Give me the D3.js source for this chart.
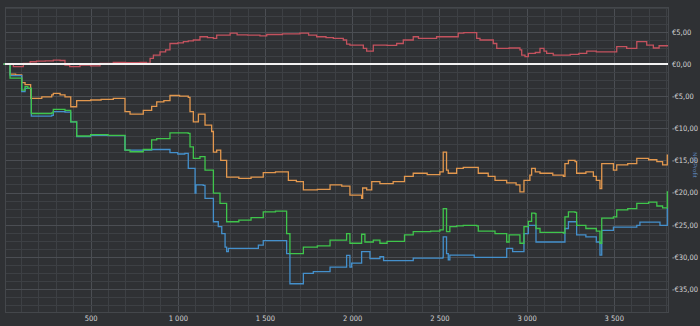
<!DOCTYPE html>
<html>
<head>
<meta charset="utf-8">
<script src="https://cdn.jsdelivr.net/npm/d3@7"></script>
<style>
    html, body { margin: 0; padding: 0; background: #2f3134; overflow: hidden; }
    #chart { display: block; }
</style>
</head>
<body>
<svg id="chart"></svg>
<script>
var xTicks = [500, 1000, 1500, 2000, 2500, 3000, 3500];
var yTicks = [5, 0, -5, -10, -15, -20, -25, -30, -35];

var redSeries = [[0, 0], [40, 0], [57, -0.4], [114, 0.1], [153, 0.36], [190, 0.45], [240, 0.5], [286, 0.62], [325, 0.55],
    [353, -0.15], [380, -0.4], [439, -0.15], [500, -0.3], [554, 0.1], [630, 0.26], [700, 0.2], [783, 0.26], [820, 0.15],
    [841, 0.88], [860, 1.4], [898, 1.9], [930, 2.2], [955, 3.2], [1000, 3.3], [1032, 3.5], [1060, 3.6], [1089, 3.74],
    [1127, 4.25], [1170, 4.1], [1204, 4.0], [1223, 4.5], [1300, 4.8], [1340, 4.55], [1400, 4.5], [1471, 4.4], [1510, 4.6],
    [1600, 4.7], [1700, 4.8], [1750, 4.5], [1796, 4.25], [1850, 4.1], [1892, 4.0], [1949, 3.74], [1968, 3.1], [1987, 2.96],
    [2064, 2.44], [2083, 2.0], [2121, 2.96], [2200, 2.9], [2255, 3.2], [2293, 3.74], [2350, 4.25], [2380, 4.0], [2484, 4.25],
    [2608, 4.8], [2640, 4.9], [2714, 4.0], [2733, 3.74], [2809, 3.2], [2829, 2.44], [2900, 2.5], [2962, 2.2], [2972, 1.4],
    [2991, 1.14], [3010, 1.66], [3050, 1.8], [3077, 2.44], [3100, 2.0], [3115, 1.66], [3153, 1.4], [3250, 1.5], [3300, 1.66],
    [3345, 2.0], [3400, 1.9], [3440, 1.9], [3517, 2.7], [3574, 2.44], [3632, 3.5], [3689, 2.96], [3727, 2.5], [3760, 2.85],
    [3811, 2.85]];

var orangeSeries = [[0, 0], [38, -1.56], [70, -1.7], [105, -2.9], [124, -3.2], [156, -5.35], [220, -5.1], [277, -4.8],
    [286, -4.57], [325, -4.8], [353, -5.1], [386, -6.65], [420, -5.7], [500, -5.6], [560, -5.5], [630, -5.35], [697, -7.4],
    [726, -7.8], [802, -7.2], [850, -6.6], [879, -5.9], [920, -5.7], [955, -4.9], [1010, -5.0], [1060, -5.2], [1070, -7.4],
    [1089, -9.0], [1118, -7.8], [1146, -7.8], [1156, -9.5], [1194, -10.5], [1204, -13.7], [1223, -13.4], [1246, -15],
    [1280, -17.6], [1350, -17.8], [1420, -17.6], [1490, -16.9], [1560, -16.8], [1634, -18.1], [1680, -18.3], [1720, -19.6],
    [1800, -19.5], [1873, -18.8], [1940, -19.0], [1987, -20.4], [2054, -20.9], [2060, -19.3], [2083, -19.6], [2112, -18.3],
    [2159, -18.6], [2235, -18.3], [2300, -17.5], [2350, -17.0], [2430, -17.2], [2503, -16.8], [2522, -13.7], [2541, -16.5],
    [2551, -17.0], [2599, -16.25], [2637, -16.1], [2714, -16.1], [2723, -17.0], [2780, -17.5], [2819, -18.1], [2886, -18.5],
    [2940, -18.8], [2962, -19.9], [2985, -18.1], [3019, -17.3], [3029, -16.25], [3050, -16.8], [3077, -17.0], [3150, -17.3],
    [3211, -17.5], [3220, -15.5], [3240, -15.0], [3278, -15.2], [3287, -17.0], [3340, -16.8], [3383, -17.5], [3400, -18.1],
    [3421, -19.4], [3431, -15.5], [3498, -16.5], [3517, -15.7], [3580, -15.5], [3632, -14.7], [3700, -14.9], [3747, -15.2],
    [3780, -15.7], [3807, -14.2], [3811, -14.2]];

var greenSeries = [[0, 0], [38, -2.2], [105, -4.05], [124, -3.5], [140, -3.8], [160, -7.7], [277, -7.6], [286, -7.05],
    [353, -7.2], [386, -9.0], [420, -11.2], [500, -11.0], [600, -11.1], [697, -13.4], [726, -13.65], [802, -13.3],
    [850, -11.8], [879, -11.6], [955, -10.7], [1060, -10.8], [1070, -12.9], [1089, -14.7], [1127, -14.4], [1156, -16.5],
    [1204, -20.1], [1242, -21.7], [1280, -24.55], [1350, -24.3], [1420, -23.9], [1490, -23.0], [1560, -22.9], [1624, -26.4],
    [1643, -29.5], [1720, -28.5], [1800, -28.3], [1873, -27.4], [1968, -26.4], [1987, -27.9], [2054, -26.5], [2073, -27.7],
    [2121, -27.4], [2159, -27.9], [2200, -27.6], [2300, -26.6], [2350, -26.1], [2450, -26.0], [2503, -25.8], [2522, -22.5],
    [2541, -26.1], [2560, -25.3], [2599, -25.2], [2637, -25.1], [2714, -25.2], [2723, -26.0], [2819, -26.4], [2886, -27.7],
    [2900, -26.6], [2962, -27.9], [2985, -25.3], [3010, -24.5], [3029, -23.2], [3048, -23.3], [3054, -25.6], [3077, -26.2],
    [3211, -26.3], [3220, -23.8], [3240, -23.0], [3278, -23.1], [3287, -25.1], [3340, -25.6], [3400, -26.0], [3421, -27.9],
    [3431, -24.0], [3498, -23.8], [3517, -22.7], [3580, -22.5], [3632, -21.7], [3700, -21.5], [3747, -22.1], [3780, -22.4],
    [3807, -19.9], [3811, -19.9]];

var blueSeries = [[0, 0], [38, -1.8], [105, -4.3], [124, -3.8], [160, -8.1], [277, -8.0], [286, -7.4], [353, -7.5],
    [386, -9.0], [420, -11.3], [500, -11.1], [600, -11.15], [697, -13.4], [850, -13.3], [955, -13.8], [1000, -14.0],
    [1040, -13.9], [1060, -16.25], [1099, -20.1], [1104, -18.8], [1146, -18.9], [1156, -20.9], [1204, -24.55], [1232, -25.3],
    [1252, -26.4], [1271, -28.5], [1280, -29.2], [1290, -28.7], [1462, -28.2], [1490, -27.5], [1624, -29.5], [1643, -34.2],
    [1720, -32.6], [1777, -32.3], [1873, -31.6], [1968, -29.8], [1987, -31.6], [1997, -31.0], [2054, -29.2], [2102, -30.3],
    [2159, -30.0], [2180, -30.6], [2350, -30.2], [2520, -30.1], [2522, -26.9], [2541, -29.5], [2551, -30.5], [2560, -29.75],
    [2700, -30.1], [2886, -28.7], [2920, -29.2], [2985, -26.4], [3010, -25.1], [3054, -27.7], [3211, -27.7], [3220, -25.6],
    [3240, -24.55], [3287, -26.6], [3340, -26.9], [3400, -27.7], [3421, -29.75], [3431, -25.9], [3498, -25.4], [3632, -25.1],
    [3650, -24.6], [3747, -24.6], [3765, -25.1], [3807, -22.5], [3811, -22.5]];

var seriesColors = ["#c4525e", "#e3984e", "#3fc54b", "#4490cc"];

function init() {
    var w = 700;
    var h = 326;
    var left = 5, right = 668, top = 7, bottom = 312;

    var svg = d3.select("#chart")
        .attr("width", w)
        .attr("height", h);

    var xScale = d3.scaleLinear()
        .domain([9, 3811])
        .range([left, right]);

    var yScale = d3.scaleLinear()
        .domain([8.88, -38.6])
        .range([top, bottom]);

    // minor grid
    var xMinor = d3.range(100, 3811, 100);
    var yMinor = d3.range(-38.75, 8.9, 1.25);

    svg.append("g").selectAll("line")
        .data(xMinor)
        .enter()
        .append("line")
        .attr("x1", function (d) { return Math.round(xScale(d)) + 0.5; })
        .attr("x2", function (d) { return Math.round(xScale(d)) + 0.5; })
        .attr("y1", top)
        .attr("y2", bottom)
        .attr("stroke", function (d) { return d % 500 == 0 ? "#4b4e53" : "#3d4044"; })
        .attr("stroke-width", 1);

    svg.append("g").selectAll("line")
        .data(yMinor.filter(function (d) { return yScale(d) >= top && yScale(d) <= bottom; }))
        .enter()
        .append("line")
        .attr("x1", left)
        .attr("x2", right)
        .attr("y1", function (d) { return Math.round(yScale(d)) + 0.5; })
        .attr("y2", function (d) { return Math.round(yScale(d)) + 0.5; })
        .attr("stroke", function (d) { return d % 5 == 0 ? "#4b4e53" : "#3d4044"; })
        .attr("stroke-width", 1);

    // frame
    svg.append("rect")
        .attr("x", left + 0.5)
        .attr("y", top + 0.5)
        .attr("width", right - left)
        .attr("height", bottom - top)
        .attr("fill", "none")
        .attr("stroke", "#44474b");

    // x-axis labels
    var xAxis = d3.axisBottom()
        .scale(xScale)
        .tickValues(xTicks)
        .tickSize(0)
        .tickPadding(4)
        .tickFormat(function (d) { return d3.format(",")(d).replace(/,/g, " "); });

    var gx = svg.append("g")
        .attr("transform", "translate(0," + bottom + ")")
        .call(xAxis);
    gx.select(".domain").remove();

    // y-axis labels on the right
    var yAxis = d3.axisRight()
        .scale(yScale)
        .tickValues(yTicks)
        .tickSize(0)
        .tickPadding(4)
        .tickFormat(function (d) {
            var s = "€" + Math.abs(d).toFixed(2).replace(".", ",");
            return d < 0 ? "-" + s : s;
        });

    var gy = svg.append("g")
        .attr("transform", "translate(" + right + ",0)")
        .call(yAxis);
    gy.select(".domain").remove();

    svg.selectAll(".tick text")
        .attr("fill", "#d4d4d4")
        .style("font-family", "'Liberation Sans Narrow', 'DejaVu Sans Condensed', 'Roboto', sans-serif")
        .style("font-size", "7.5px");

    // axis title at the right edge
    svg.append("text")
        .attr("transform", "translate(693,165) rotate(90)")
        .attr("text-anchor", "middle")
        .attr("fill", "#5a7fb0")
        .style("font-family", "'Roboto', sans-serif")
        .style("font-size", "6px")
        .text("Net Profit");

    // series
    var line = d3.line()
        .x(function (d) { return xScale(d[0]); })
        .y(function (d) { return yScale(d[1]); })
        .curve(d3.curveStepAfter);

    var allSeries = [redSeries, orangeSeries, greenSeries, blueSeries];
    var order = [0, 1, 3, 2];

    order.forEach(function (i) {
        svg.append("path")
            .datum(allSeries[i])
            .attr("d", line)
            .attr("fill", "none")
            .attr("stroke", seriesColors[i])
            .attr("stroke-width", 1.3);
    });

    // zero line
    svg.append("line")
        .attr("x1", left)
        .attr("x2", right)
        .attr("y1", yScale(0))
        .attr("y2", yScale(0))
        .attr("stroke", "#f2f2f2")
        .attr("stroke-width", 2);
}
window.onload = init;
</script>
</body>
</html>
